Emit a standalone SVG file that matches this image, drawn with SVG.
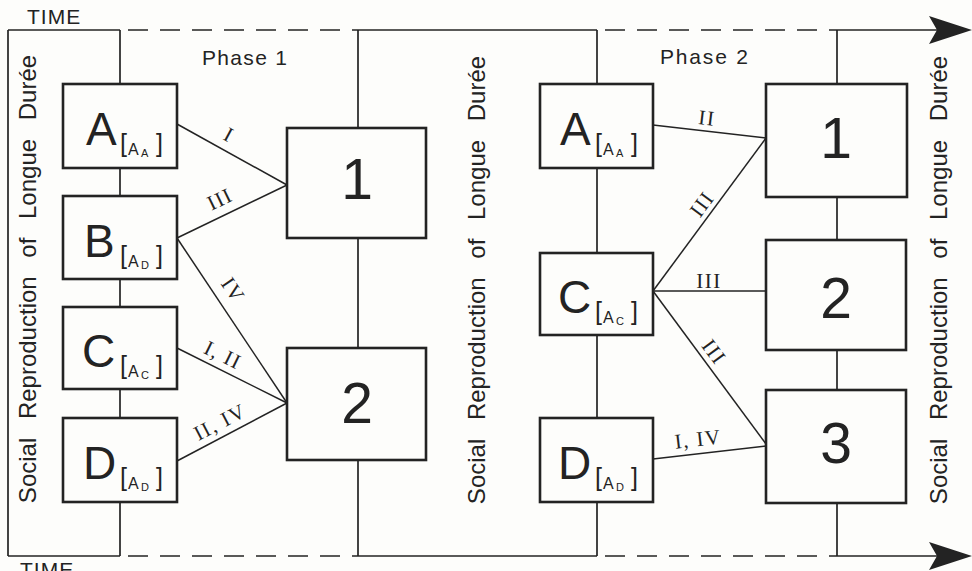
<svg xmlns="http://www.w3.org/2000/svg" width="972" height="571" viewBox="0 0 972 571">
<defs>
<style>
.ln{stroke:#232323;stroke-width:1.7;fill:none}
.dash{stroke-dasharray:20 12;stroke-dashoffset:24}
.box{fill:none;stroke:#232323;stroke-width:2.6}
.conn{stroke:#232323;stroke-width:1.5;fill:none}
.ah{fill:#232323}
text{fill:#232323;font-family:"Liberation Sans",Arial,sans-serif}
.lbl{font-family:"Liberation Serif","Times New Roman",serif;font-size:21px;letter-spacing:1.5px;text-anchor:middle}
.big{font-size:46px}
.num{font-size:57px;text-anchor:middle}
.br{font-size:25px}
.sa{font-size:16px}
.ss{font-size:11px}
.side{font-size:24px;word-spacing:12px;text-anchor:middle}
.ph{font-size:21px}
.time{font-size:21px;letter-spacing:1px}
</style>
</defs>
<rect x="0" y="0" width="972" height="571" fill="#fdfdfb"/>

<g id="frame">
  <line class="ln" x1="8" y1="30" x2="8" y2="556"/>
  <line class="ln" x1="8" y1="30" x2="120" y2="30"/>
  <line class="ln dash" x1="120" y1="30" x2="358" y2="30"/>
  <line class="ln" x1="358" y1="30" x2="597" y2="30"/>
  <line class="ln dash" x1="597" y1="30" x2="837" y2="30"/>
  <line class="ln" x1="837" y1="30" x2="938" y2="30"/>
  <polygon class="ah" points="972,30 929,16 937,30 929,44"/>
  <line class="ln" x1="8" y1="556" x2="120" y2="556"/>
  <line class="ln dash" x1="120" y1="556" x2="358" y2="556"/>
  <line class="ln" x1="358" y1="556" x2="597" y2="556"/>
  <line class="ln dash" x1="597" y1="556" x2="837" y2="556"/>
  <line class="ln" x1="837" y1="556" x2="938" y2="556"/>
  <polygon class="ah" points="972,556 929,542 937,556 929,570"/>
  <line class="ln" x1="120" y1="30" x2="120" y2="84"/>
  <line class="ln" x1="120" y1="168" x2="120" y2="196"/>
  <line class="ln" x1="120" y1="279" x2="120" y2="307"/>
  <line class="ln" x1="120" y1="389" x2="120" y2="418"/>
  <line class="ln" x1="120" y1="502" x2="120" y2="556"/>
  <line class="ln" x1="358" y1="30" x2="358" y2="128"/>
  <line class="ln" x1="358" y1="238" x2="358" y2="348"/>
  <line class="ln" x1="358" y1="460" x2="358" y2="556"/>
  <line class="ln" x1="597" y1="30" x2="597" y2="84"/>
  <line class="ln" x1="597" y1="168" x2="597" y2="253"/>
  <line class="ln" x1="597" y1="335" x2="597" y2="418"/>
  <line class="ln" x1="597" y1="502" x2="597" y2="556"/>
  <line class="ln" x1="837" y1="30" x2="837" y2="84"/>
  <line class="ln" x1="837" y1="197" x2="837" y2="240"/>
  <line class="ln" x1="837" y1="350" x2="837" y2="390"/>
  <line class="ln" x1="837" y1="503" x2="837" y2="556"/>
</g>

<g id="titles">
  <text class="time" x="27" y="24">TIME</text>
  <text class="time" x="20" y="577">TIME</text>
  <text class="ph" x="202" y="65" textLength="85" lengthAdjust="spacing">Phase 1</text>
  <text class="ph" x="660" y="64" textLength="88" lengthAdjust="spacing">Phase 2</text>
  <text class="side" transform="translate(35.5,279) rotate(-90)">Social Reproduction of Longue Durée</text>
  <text class="side" transform="translate(485,280) rotate(-90)">Social Reproduction of Longue Durée</text>
  <text class="side" transform="translate(947,280) rotate(-90)">Social Reproduction of Longue Durée</text>
</g>

<g id="connectors">
  <line class="conn" x1="177" y1="124" x2="287" y2="185"/>
  <line class="conn" x1="177" y1="238" x2="287" y2="185"/>
  <line class="conn" x1="177" y1="238" x2="287" y2="403"/>
  <line class="conn" x1="177" y1="348" x2="287" y2="403"/>
  <line class="conn" x1="177" y1="461" x2="287" y2="403"/>
  <line class="conn" x1="653" y1="125" x2="766" y2="138"/>
  <line class="conn" x1="653" y1="291" x2="766" y2="138"/>
  <line class="conn" x1="653" y1="291" x2="766" y2="291"/>
  <line class="conn" x1="653" y1="291" x2="766" y2="444"/>
  <line class="conn" x1="653" y1="459" x2="766" y2="446"/>
  <text class="lbl" transform="translate(229,135) rotate(28.6)" y="7">I</text>
  <text class="lbl" transform="translate(220,199) rotate(-25.8)" y="7">III</text>
  <text class="lbl" transform="translate(233,290) rotate(56.1)" y="7">IV</text>
  <text class="lbl" transform="translate(223,355) rotate(26.1)" y="7">I, II</text>
  <text class="lbl" transform="translate(220,422) rotate(-27.6)" y="7">II, IV</text>
  <text class="lbl" transform="translate(707,118) rotate(6.6)" y="7">II</text>
  <text class="lbl" transform="translate(702,204) rotate(-53.6)" y="7">III</text>
  <text class="lbl" transform="translate(709,281)" y="7">III</text>
  <text class="lbl" transform="translate(714,352) rotate(53.6)" y="7">III</text>
  <text class="lbl" transform="translate(698,439) rotate(-6.6)" y="7">I, IV</text>
</g>

<g id="p1-A" transform="translate(63,84)">
  <rect class="box" width="114" height="84"/>
  <text class="big" x="23" y="61">A</text>
  <text class="br" x="57" y="68">[</text><text class="sa" x="65" y="71">A</text><text class="ss" x="78" y="73">A</text><text class="br" x="93" y="68">]</text>
</g>
<g id="p1-B" transform="translate(63,196)">
  <rect class="box" width="114" height="83"/>
  <text class="big" x="21" y="61">B</text>
  <text class="br" x="57" y="68">[</text><text class="sa" x="65" y="71">A</text><text class="ss" x="78" y="73">D</text><text class="br" x="93" y="68">]</text>
</g>
<g id="p1-C" transform="translate(63,307)">
  <rect class="box" width="114" height="82"/>
  <text class="big" x="19" y="60">C</text>
  <text class="br" x="57" y="67">[</text><text class="sa" x="65" y="70">A</text><text class="ss" x="78" y="72">C</text><text class="br" x="93" y="67">]</text>
</g>
<g id="p1-D" transform="translate(63,418)">
  <rect class="box" width="114" height="84"/>
  <text class="big" x="20" y="61">D</text>
  <text class="br" x="57" y="68">[</text><text class="sa" x="65" y="71">A</text><text class="ss" x="78" y="73">D</text><text class="br" x="93" y="68">]</text>
</g>
<g id="p1-1" transform="translate(287,128)">
  <rect class="box" width="139" height="110"/>
  <text class="num" x="70" y="71">1</text>
</g>
<g id="p1-2" transform="translate(287,348)">
  <rect class="box" width="139" height="112"/>
  <text class="num" x="70" y="75">2</text>
</g>

<g id="p2-A" transform="translate(540,84)">
  <rect class="box" width="113" height="84"/>
  <text class="big" x="20" y="61">A</text>
  <text class="br" x="55" y="68">[</text><text class="sa" x="63" y="71">A</text><text class="ss" x="76" y="73">A</text><text class="br" x="91" y="68">]</text>
</g>
<g id="p2-C" transform="translate(540,253)">
  <rect class="box" width="113" height="82"/>
  <text class="big" x="18" y="60">C</text>
  <text class="br" x="55" y="67">[</text><text class="sa" x="63" y="70">A</text><text class="ss" x="76" y="72">C</text><text class="br" x="91" y="67">]</text>
</g>
<g id="p2-D" transform="translate(540,418)">
  <rect class="box" width="113" height="84"/>
  <text class="big" x="18" y="61">D</text>
  <text class="br" x="55" y="68">[</text><text class="sa" x="63" y="71">A</text><text class="ss" x="76" y="73">D</text><text class="br" x="91" y="68">]</text>
</g>
<g id="p2-1" transform="translate(766,84)">
  <rect class="box" width="141" height="113"/>
  <text class="num" x="70" y="74">1</text>
</g>
<g id="p2-2" transform="translate(766,240)">
  <rect class="box" width="140" height="110"/>
  <text class="num" x="70" y="78">2</text>
</g>
<g id="p2-3" transform="translate(766,390)">
  <rect class="box" width="140" height="113"/>
  <text class="num" x="70" y="73">3</text>
</g>
</svg>
